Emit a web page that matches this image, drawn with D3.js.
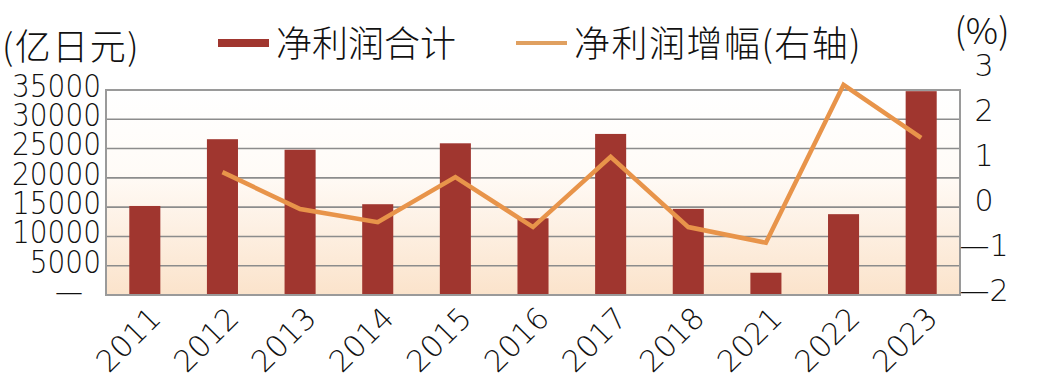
<!DOCTYPE html>
<html><head><meta charset="utf-8">
<script src="https://cdn.jsdelivr.net/npm/d3@7"></script>
<style>
html,body{margin:0;padding:0;background:#fff;}
svg{display:block;font-family:"Noto Sans CJK SC","Noto Sans",sans-serif;font-weight:300;}
.num{font-family:"DejaVu Sans",sans-serif;font-weight:200;}
</style></head><body>
<svg id="c" width="1045" height="379"></svg>
<script>
const years = ["2011","2012","2013","2014","2015","2016","2017","2018","2021","2022","2023"];
const netProfit = [15200,26600,24800,15500,25900,13100,27500,14700,3800,13800,34800];
const growth = [null,0.73,-0.09,-0.38,0.62,-0.49,1.07,-0.49,-0.84,2.67,1.49];
const leftTicks = [0,5000,10000,15000,20000,25000,30000,35000];
const rightTicks = [-2,-1,0,1,2,3];
const legendLabels = ["净利润合计","净利润增幅(右轴)"];
const leftUnit = "(亿日元)";
const rightUnit = "(%)";

const barColor = "#a0362f", lineColor = "#e8944a", gridColor = "#8c8c8c";
const L = 106, R = 960, T = 90, B = 295;
const svg = d3.select("#c");

const defs = svg.append("defs");
const grad = defs.append("linearGradient").attr("id","bg").attr("x1",0).attr("y1",0).attr("x2",0).attr("y2",1);
grad.append("stop").attr("offset","0%").attr("stop-color","#ffffff");
grad.append("stop").attr("offset","40%").attr("stop-color","#fffbf7");
grad.append("stop").attr("offset","100%").attr("stop-color","#fbe3cb");

const x = d3.scaleBand().domain(years).range([L,R]).paddingInner(0.6).paddingOuter(0.3);
const y = d3.scaleLinear().domain([0,35000]).range([B,T]);
const y2 = d3.scaleLinear().domain([-2,3]).range([B,70]);

svg.append("rect").attr("x",L).attr("y",T).attr("width",R-L).attr("height",B-T).attr("fill","url(#bg)");

svg.append("g").selectAll("line").data(leftTicks.filter(v=>v>0&&v<35000)).join("line")
  .attr("x1",L).attr("x2",R).attr("y1",d=>y(d)).attr("y2",d=>y(d))
  .attr("stroke",gridColor).attr("stroke-width",1.6);

svg.append("g").selectAll("rect").data(years).join("rect")
  .attr("x",d=>x(d)).attr("width",x.bandwidth())
  .attr("y",(d,i)=>y(netProfit[i])).attr("height",(d,i)=>B-y(netProfit[i]))
  .attr("fill",barColor);

svg.append("rect").attr("x",L).attr("y",T).attr("width",R-L).attr("height",B-T)
  .attr("fill","none").attr("stroke","#9a9a9a").attr("stroke-width",2);

const line = d3.line().defined((d,i)=>growth[i]!==null)
  .x((d,i)=>x(years[i])+x.bandwidth()/2).y((d,i)=>y2(growth[i]));
svg.append("path").datum(years).attr("d",line).attr("fill","none")
  .attr("stroke",lineColor).attr("stroke-width",4.5).attr("stroke-linejoin","miter");

const ax = d3.axisLeft(y).tickValues(leftTicks).tickSize(0)
  .tickFormat(d=>d===0?"—":String(d));
const gL = svg.append("g").attr("transform",`translate(101,0)`).call(ax);
gL.select(".domain").remove();
gL.selectAll("text").attr("class","num").attr("font-size",28).attr("fill","#111").attr("x",0).attr("dy","0.36em")
  .attr("transform","translate(0,-5) scale(1,1.12)").attr("transform-origin",null);
gL.selectAll(".tick text").each(function(){ const t=d3.select(this); });
gL.selectAll(".tick").filter(d=>d===0).select("text").attr("x",-18);

const axR = d3.axisRight(y2).tickValues(rightTicks).tickSize(0)
  .tickFormat(d=>d<0?"—"+Math.abs(d):String(d));
const gR = svg.append("g").attr("transform",`translate(984,0)`).call(axR);
gR.select(".domain").remove();
gR.selectAll("text").attr("class","num").attr("font-size",30).attr("fill","#111").attr("x",0)
  .attr("text-anchor","middle").attr("dy","0.36em").attr("transform","translate(0,-5)");

const gx = svg.append("g");
gx.selectAll("text").data(years).join("text").attr("class","num")
  .attr("transform",d=>`translate(${x(d)+x.bandwidth()/2+18},${320}) rotate(-45)`)
  .attr("text-anchor","end").attr("font-size",30).attr("fill","#111").text(d=>d);

svg.append("text").attr("x",2).attr("y",60).attr("font-size",36).attr("letter-spacing",1.5).attr("fill","#111").text(leftUnit);
svg.append("text").attr("x",982).attr("y",44).attr("text-anchor","middle").attr("font-size",36).attr("fill","#111").text(rightUnit);

svg.append("rect").attr("x",218).attr("y",39).attr("width",51).attr("height",8).attr("fill",barColor);
svg.append("text").attr("x",276).attr("y",57).attr("font-size",36).attr("fill","#111").text(legendLabels[0]);
svg.append("line").attr("x1",516).attr("x2",567).attr("y1",43).attr("y2",43).attr("stroke","#e0a060").attr("stroke-width",4);
svg.append("text").attr("x",574).attr("y",57).attr("font-size",36).attr("letter-spacing",1.5).attr("fill","#111").text(legendLabels[1]);
</script>
</body></html>
